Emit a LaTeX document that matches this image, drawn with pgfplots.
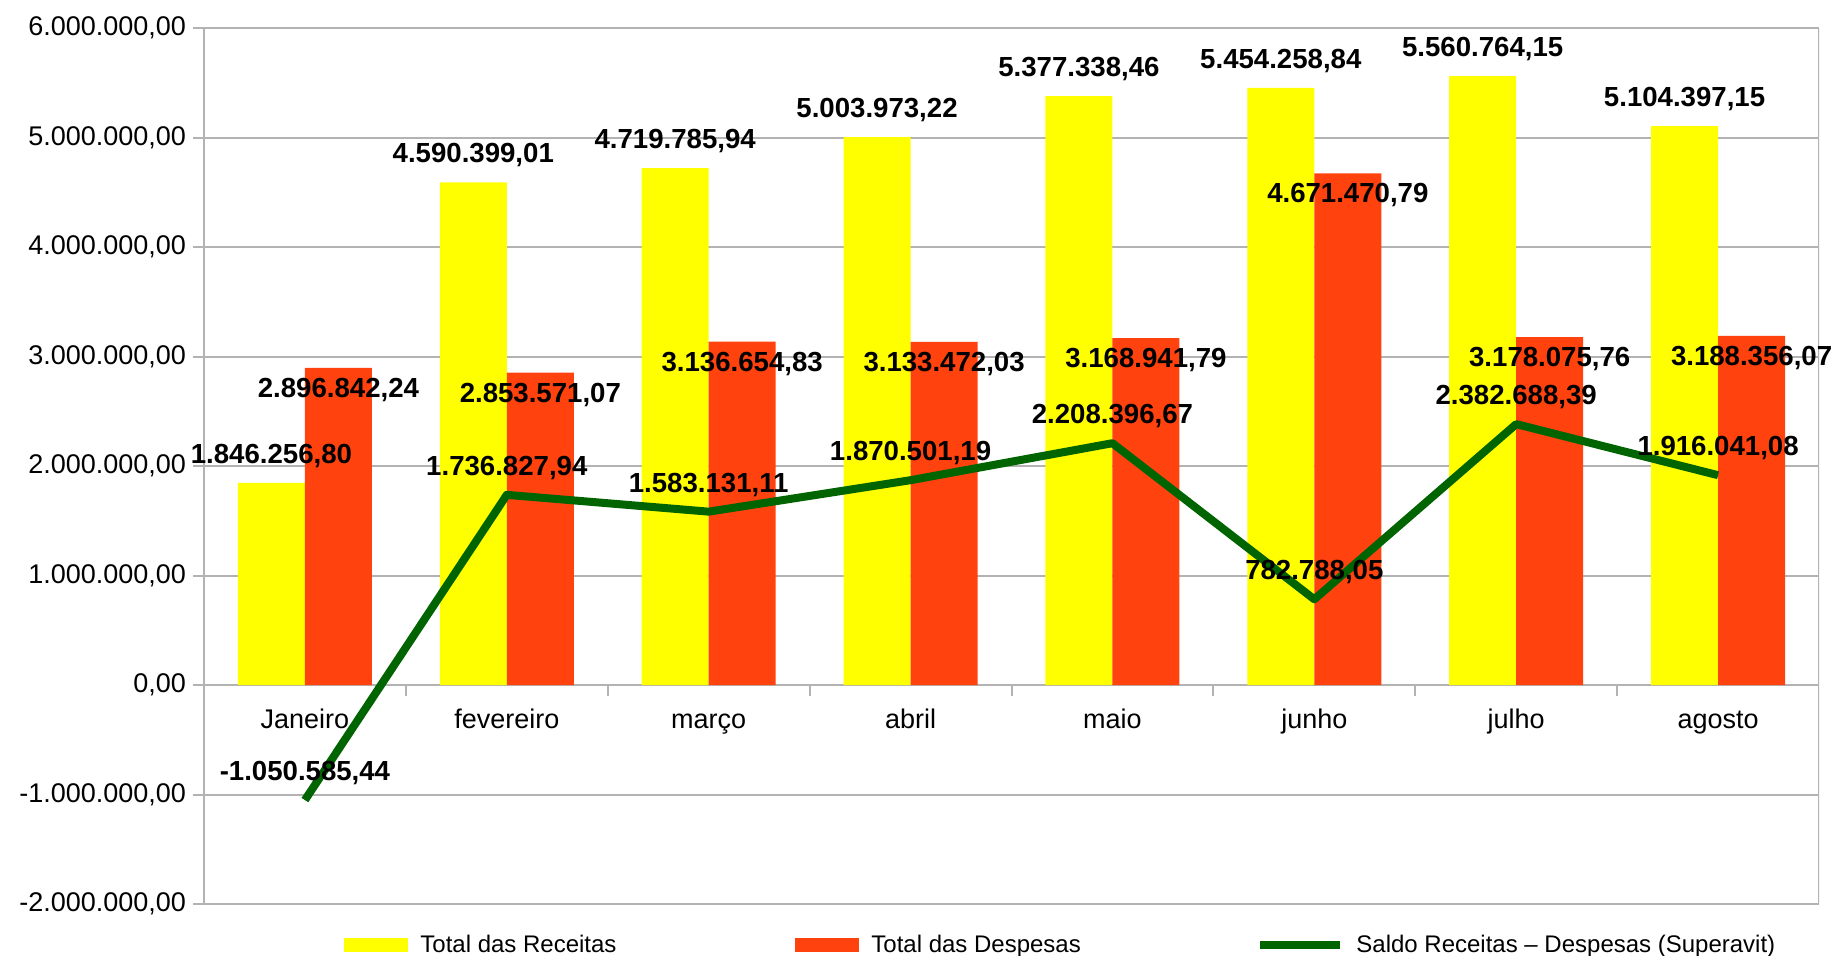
\documentclass[border=0pt]{standalone}
\usepackage{fontspec}
\setmainfont{Liberation Sans}
\usepackage{pgfplots}
\pgfplotsset{compat=1.18}
\definecolor{receita}{HTML}{FFFF00}
\definecolor{despesa}{HTML}{FF420E}
\definecolor{saldo}{HTML}{006400}
\definecolor{gridgray}{HTML}{B3B3B3}

\begin{document}
\begin{tikzpicture}
\useasboundingbox (0,0) rectangle (917pt,477.5pt);
\begin{axis}[
  at={(102pt,25.5pt)}, anchor=south west,
  scale only axis, width=807.5pt, height=438pt,
  xmin=-0.5, xmax=7.5, ymin=-2000000, ymax=6000000,
  axis x line*=middle, axis y line*=left,
  axis line style={gridgray, line width=1pt},
  tick align=outside,
  major tick length=5.5pt, minor tick length=5.5pt,
  tick style={gridgray, line width=1pt},
  major x tick style={draw=none},
  xtick={0,1,2,3,4,5,6,7},
  minor xtick={0.5,1.5,2.5,3.5,4.5,5.5,6.5},
  xticklabels={Janeiro,fevereiro,março,abril,maio,junho,julho,agosto},
  ytick={-2000000,-1000000,0,1000000,2000000,3000000,4000000,5000000,6000000},
  yticklabels={{-2.000.000,00},{-1.000.000,00},{0,00},{1.000.000,00},{2.000.000,00},{3.000.000,00},{4.000.000,00},{5.000.000,00},{6.000.000,00}},
  scaled y ticks=false,
  ymajorgrids, grid style={gridgray, line width=1pt},
  ticklabel style={font=\fontsize{13.5}{15}\selectfont, text=black},
  xticklabel style={anchor=base, yshift=-16pt},
  /pgf/number format/assume math mode=true,
  legend columns=3,
  legend style={at={(axis description cs:0.0867,-0.0473)}, anchor=west,
    draw=none, fill=none, inner sep=0pt,
    font=\fontsize{12}{14}\selectfont,
    nodes={inner sep=3pt},
    /tikz/every odd column/.append style={column sep=3pt},
    /tikz/every even column/.append style={column sep=79.5pt}},
]
\addplot[ybar, bar width=33.5pt, bar shift=-16.75pt, fill=receita, draw=none,
  legend image code/.code={\fill[receita] (0pt,-3.5pt) rectangle (32pt,3.5pt);}]
  coordinates {(0,1846256.80) (1,4590399.01) (2,4719785.94) (3,5003973.22)
               (4,5377338.46) (5,5454258.84) (6,5560764.15) (7,5104397.15)};
\addlegendentry{\makebox[105pt][l]{Total das Receitas}}
\addplot[ybar, bar width=33.5pt, bar shift=16.75pt, fill=despesa, draw=none,
  legend image code/.code={\fill[despesa] (0pt,-3.5pt) rectangle (32pt,3.5pt);}]
  coordinates {(0,2896842.24) (1,2853571.07) (2,3136654.83) (3,3133472.03)
               (4,3168941.79) (5,4671470.79) (6,3178075.76) (7,3188356.07)};
\addlegendentry{\makebox[110pt][l]{Total das Despesas}}
% labels for the receitas bars
\addplot[draw=none, forget plot, nodes near coords, point meta=explicit symbolic,
  every node near coord/.append style={anchor=center, yshift=13.5pt, text=black,
    font=\fontsize{13.8}{15}\selectfont\bfseries}]
  coordinates {(-0.166,1846256.80) [{1.846.256,80}] (0.834,4590399.01) [{4.590.399,01}]
               (1.834,4719785.94) [{4.719.785,94}] (2.834,5003973.22) [{5.003.973,22}]
               (3.834,5377338.46) [{5.377.338,46}] (4.834,5454258.84) [{5.454.258,84}]
               (5.834,5560764.15) [{5.560.764,15}] (6.834,5104397.15) [{5.104.397,15}]};
% labels for the despesas bars
\addplot[draw=none, forget plot, nodes near coords, point meta=explicit symbolic,
  every node near coord/.append style={anchor=center, yshift=-11pt, text=black,
    font=\fontsize{13.8}{15}\selectfont\bfseries}]
  coordinates {(0.166,2896842.24) [{2.896.842,24}] (1.166,2853571.07) [{2.853.571,07}]
               (2.166,3136654.83) [{3.136.654,83}] (3.166,3133472.03) [{3.133.472,03}]
               (4.166,3168941.79) [{3.168.941,79}] (5.166,4671470.79) [{4.671.470,79}]
               (6.166,3178075.76) [{3.178.075,76}] (7.166,3188356.07) [{3.188.356,07}]};
% labels for the saldo line
\addplot[draw=none, forget plot, nodes near coords, point meta=explicit symbolic,
  every node near coord/.append style={anchor=center, yshift=13.5pt, text=black,
    font=\fontsize{13.8}{15}\selectfont\bfseries}]
  coordinates {(0,-1050585.44) [{-1.050.585,44}] (1,1736827.94) [{1.736.827,94}]
               (2,1583131.11) [{1.583.131,11}] (3,1870501.19) [{1.870.501,19}]
               (4,2208396.67) [{2.208.396,67}] (5,782788.05) [{782.788,05}]
               (6,2382688.39) [{2.382.688,39}] (7,1916041.08) [{1.916.041,08}]};
\addplot[saldo, line width=4pt, line join=round,
  legend image code/.code={\draw[saldo, line width=4pt] (0pt,0pt) -- (40pt,0pt);}]
  coordinates {(0,-1050585.44) (1,1736827.94) (2,1583131.11) (3,1870501.19)
               (4,2208396.67) (5,782788.05) (6,2382688.39) (7,1916041.08)};
\addlegendentry{Saldo Receitas – Despesas (Superavit)}
\draw[gridgray, line width=1pt] (rel axis cs:1,0) -- (rel axis cs:1,1);
\end{axis}
\end{tikzpicture}
\end{document}
